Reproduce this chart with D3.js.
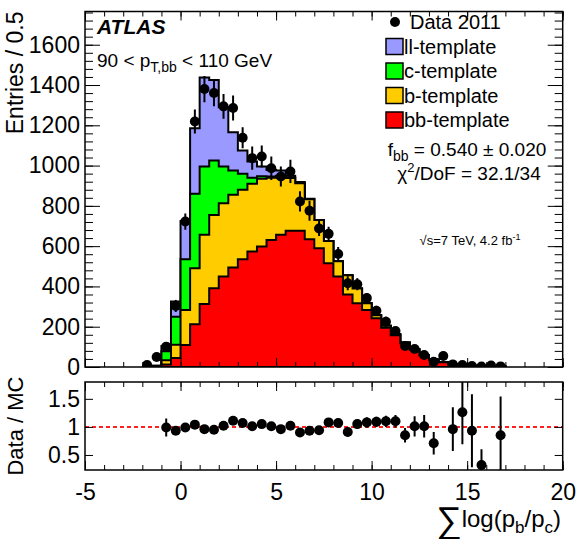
<!DOCTYPE html>
<html>
<head>
<meta charset="utf-8">
<script src="https://cdn.jsdelivr.net/npm/d3@7"></script>
<style>
  body { margin: 0; background: #fff; }
  svg { display: block; font-family: "Liberation Sans", Arial, Helvetica, sans-serif; }
</style>
</head>
<body>
<svg id="chart" width="578" height="539"></svg>
<script>
// histogram bins, width 0.5 (centres)
const binWidth = 0.5;
const binCenters = [-1.75, -1.25, -0.75, -0.25, 0.25, 0.75, 1.25, 1.75, 2.25, 2.75,
  3.25, 3.75, 4.25, 4.75, 5.25, 5.75, 6.25, 6.75, 7.25, 7.75,
  8.25, 8.75, 9.25, 9.75, 10.25, 10.75, 11.25, 11.75, 12.25, 12.75,
  13.25, 13.75, 14.25, 14.75, 15.25, 15.75, 16.25, 16.75];

// templates (entries per bin, stacked bb -> b -> c -> ll)
const bbTemplate = [0, 0, 12, 45, 109, 212, 313, 391, 449, 494,
  535, 573, 598, 631, 656, 676, 676, 634, 590, 515,
  449, 360, 316, 283, 242, 195, 158, 118, 85, 57,
  36, 24, 12.5, 8, 5.4, 6, 2, 3.5];
const bTemplate = [0, 2, 22, 65, 174, 278, 343, 364, 364, 361,
  345, 337, 337, 309, 289, 262, 236, 199, 140, 110,
  76, 95, 74, 33, 15, 10, 5, 4, 3, 2,
  1, 1, 0, 0, 0, 0, 0, 0];
const cTemplate = [0, 4, 44, 140, 252, 370, 340, 270, 183, 120,
  80, 30, 12, 6, 5, 4, 3, 1, 0, 0,
  0, 0, 0, 0, 0, 0, 0, 0, 0, 0,
  0, 0, 0, 0, 0, 0, 0, 0];
const llTemplate = [0, 0, 26, 75, 190, 325, 441, 400, 294, 190,
  115, 80, 48, 32, 25, 8, 3, 1, 0, 0,
  0, 0, 0, 0, 0, 0, 0, 0, 0, 0,
  0, 0, 0, 0, 0, 0, 0, 0];

// Data 2011
const dataCounts = [10, 50, 101, 303, 722, 1219, 1380, 1360, 1294, 1286,
  1138, 1037, 1045, 987, 946, 971, 822, 776, 688, 661,
  561, 416, 411, 342, 279, 225, 179, 104, 89, 60,
  26, 55, 13, 10, 5, 2, 7, 3];
const dataErrors = [10, 15, 20, 30, 40, 60, 65, 65, 62, 62,
  52, 58, 55, 58, 50, 58, 50, 50, 38, 35,
  35, 35, 30, 25, 25, 25, 20, 18, 15, 15,
  10, 12, 6, 5, 4, 2, 4, 3];

// Data / MC (null = not shown)
const ratioValues = [null, null, 0.99, 0.93, 0.99, 1.04, 0.96, 0.95, 1.02, 1.11,
  1.07, 1.01, 1.05, 1.01, 0.96, 1.02, 0.90, 0.93, 0.94, 1.08,
  1.07, 0.91, 1.05, 1.08, 1.09, 1.10, 1.10, 0.85, 1.01, 1.01,
  0.71, null, 0.96, 1.26, 0.93, 0.32, null, 0.85];
const ratioErrors = [0, 0, 0.16, 0.07, 0.05, 0.05, 0.05, 0.05, 0.05, 0.05,
  0.05, 0.06, 0.06, 0.06, 0.06, 0.06, 0.06, 0.07, 0.07, 0.07,
  0.07, 0.08, 0.08, 0.09, 0.09, 0.10, 0.11, 0.13, 0.18, 0.20,
  0.20, 0, 0.39, 0.57, 0.65, 0.28, 0, 0.69];

const xTicks = [-5, 0, 5, 10, 15, 20];
const yTicks = [0, 200, 400, 600, 800, 1000, 1200, 1400, 1600];
const ratioTicks = [0.5, 1, 1.5];

const templateNames = ["ll-template", "c-template", "b-template", "bb-template"];
const templateKeys = ["bb", "b", "c", "ll"];
const templateColors = { ll: "#9999ff", c: "#00ff00", b: "#ffcc00", bb: "#ff0000" };

var svg = d3.select("#chart");
const font = '"Liberation Sans", Arial, Helvetica, sans-serif';

// frame geometry
const left = 85, right = 562.7;
const mainTop = 11.5, mainBottom = 367;
const ratioTop = 382, ratioBottom = 470;

var x = d3.scaleLinear().domain([-5, 20]).range([left, right]);
var y = d3.scaleLinear().domain([0, 1765]).range([mainBottom, mainTop]);
var yr = d3.scaleLinear().domain([0.232, 1.80]).range([ratioBottom, ratioTop]);

// clip paths
var defs = svg.append("defs");
defs.append("clipPath").attr("id", "clipMain").append("rect")
  .attr("x", left).attr("y", mainTop).attr("width", right - left).attr("height", mainBottom - mainTop);
defs.append("clipPath").attr("id", "clipRatio").append("rect")
  .attr("x", left).attr("y", ratioTop).attr("width", right - left).attr("height", ratioBottom - ratioTop);

// stacked templates
var rows = binCenters.map((c, i) => ({
  center: c, bb: bbTemplate[i], b: bTemplate[i], c: cTemplate[i], ll: llTemplate[i]
}));
var series = d3.stack().keys(templateKeys)(rows);

var stepPoints = (s) => {
  let pts = [[binCenters[0] - binWidth / 2, 0]];
  s.forEach((d, i) => {
    pts.push([binCenters[i] - binWidth / 2, d[1]]);
    pts.push([binCenters[i] + binWidth / 2, d[1]]);
  });
  pts.push([binCenters[binCenters.length - 1] + binWidth / 2, 0]);
  return pts;
};
var stepLine = d3.line().x(d => x(d[0])).y(d => y(d[1]));

var gMain = svg.append("g").attr("clip-path", "url(#clipMain)");
series.slice().reverse().forEach(s => {
  gMain.append("path")
    .attr("d", stepLine(stepPoints(s)) + "Z")
    .attr("fill", templateColors[s.key])
    .attr("stroke", "#000")
    .attr("stroke-width", 2)
    .attr("stroke-linejoin", "miter");
});

// data points
binCenters.forEach((c, i) => {
  gMain.append("line")
    .attr("x1", x(c)).attr("x2", x(c))
    .attr("y1", y(dataCounts[i] - dataErrors[i])).attr("y2", y(dataCounts[i] + dataErrors[i]))
    .attr("stroke", "#000").attr("stroke-width", 2);
  gMain.append("circle")
    .attr("cx", x(c)).attr("cy", y(dataCounts[i])).attr("r", 5)
    .attr("fill", "#000");
});

// ratio panel
var gRatio = svg.append("g").attr("clip-path", "url(#clipRatio)");
gRatio.append("line")
  .attr("x1", left).attr("x2", right)
  .attr("y1", yr(1)).attr("y2", yr(1))
  .attr("stroke", "#ff2020").attr("stroke-width", 2).attr("stroke-dasharray", "4,3");
binCenters.forEach((c, i) => {
  if (ratioValues[i] === null) return;
  gRatio.append("line")
    .attr("x1", x(c)).attr("x2", x(c))
    .attr("y1", yr(ratioValues[i] - ratioErrors[i])).attr("y2", yr(ratioValues[i] + ratioErrors[i]))
    .attr("stroke", "#000").attr("stroke-width", 2);
  gRatio.append("circle")
    .attr("cx", x(c)).attr("cy", yr(ratioValues[i])).attr("r", 5)
    .attr("fill", "#000");
});

// axes: ticks pointing inwards
var styleAxis = (g, size) => {
  g.select(".domain").remove();
  g.selectAll("line").attr("stroke", "#000").attr("stroke-width", 1);
  g.attr("font-family", font).attr("font-size", size);
  g.selectAll("text").attr("fill", "#000");
};

var drawAxis = (axis, tx, ty, size) => {
  var g = svg.append("g").attr("transform", "translate(" + tx + "," + ty + ")").call(axis);
  styleAxis(g, size || 23);
  return g;
};

var yMinor = d3.range(0, 1765, 40);
var xMinor = d3.range(-5, 20.01, 1);

// main panel
drawAxis(d3.axisLeft(y).tickValues(yTicks).tickSizeInner(-15).tickSizeOuter(0).tickPadding(5).tickFormat(d3.format("d")), left, 0);
drawAxis(d3.axisLeft(y).tickValues(yMinor).tickSizeInner(-8).tickSizeOuter(0).tickFormat(""), left, 0);
drawAxis(d3.axisRight(y).tickValues(yTicks).tickSizeInner(-15).tickSizeOuter(0).tickFormat(""), right, 0);
drawAxis(d3.axisRight(y).tickValues(yMinor).tickSizeInner(-8).tickSizeOuter(0).tickFormat(""), right, 0);
drawAxis(d3.axisBottom(x).tickValues(xTicks).tickSizeInner(-9).tickSizeOuter(0).tickFormat(""), 0, mainBottom);
drawAxis(d3.axisBottom(x).tickValues(xMinor).tickSizeInner(-5).tickSizeOuter(0).tickFormat(""), 0, mainBottom);
drawAxis(d3.axisTop(x).tickValues(xTicks).tickSizeInner(-9).tickSizeOuter(0).tickFormat(""), 0, mainTop);
drawAxis(d3.axisTop(x).tickValues(xMinor).tickSizeInner(-5).tickSizeOuter(0).tickFormat(""), 0, mainTop);

// ratio panel
drawAxis(d3.axisLeft(yr).tickValues(ratioTicks).tickSizeInner(-8).tickSizeOuter(0).tickPadding(5).tickFormat(d3.format("~g")), left, 0);
drawAxis(d3.axisRight(yr).tickValues(ratioTicks).tickSizeInner(-8).tickSizeOuter(0).tickFormat(""), right, 0);
var xLab = drawAxis(d3.axisBottom(x).tickValues(xTicks).tickSizeInner(-9).tickSizeOuter(0).tickPadding(14), 0, ratioBottom);
drawAxis(d3.axisBottom(x).tickValues(xMinor).tickSizeInner(-5).tickSizeOuter(0).tickFormat(""), 0, ratioBottom);
drawAxis(d3.axisTop(x).tickValues(xTicks).tickSizeInner(-9).tickSizeOuter(0).tickFormat(""), 0, ratioTop);
drawAxis(d3.axisTop(x).tickValues(xMinor).tickSizeInner(-5).tickSizeOuter(0).tickFormat(""), 0, ratioTop);
xLab.selectAll("text").text(d => d < 0 ? "-" + Math.abs(d) : d);

// frames
[[mainTop, mainBottom], [ratioTop, ratioBottom]].forEach(f => {
  svg.append("rect")
    .attr("x", left).attr("y", f[0]).attr("width", right - left).attr("height", f[1] - f[0])
    .attr("fill", "none").attr("stroke", "#000").attr("stroke-width", 1.5);
});

// axis titles
svg.append("text")
  .attr("transform", "translate(23," + mainTop + ")rotate(-90)")
  .attr("text-anchor", "end").attr("font-size", 23).attr("font-family", font)
  .text("Entries / 0.5");
svg.append("text")
  .attr("transform", "translate(23," + ((ratioTop + ratioBottom) / 2) + ")rotate(-90)")
  .attr("text-anchor", "middle").attr("font-size", 22).attr("font-family", font)
  .text("Data / MC");

var xTitle = svg.append("text")
  .attr("x", 561).attr("y", 527).attr("text-anchor", "end")
  .attr("font-size", 24).attr("font-family", font);
xTitle.append("tspan").attr("font-size", 36).attr("dy", 5).text("\u2211");
xTitle.append("tspan").attr("dy", -5).text("log(p");
xTitle.append("tspan").attr("font-size", 17).attr("dy", 6).text("b");
xTitle.append("tspan").attr("dy", -6).text("/p");
xTitle.append("tspan").attr("font-size", 17).attr("dy", 6).text("c");
xTitle.append("tspan").attr("dy", -6).text(")");

// labels inside the plot
svg.append("text")
  .attr("x", 97).attr("y", 34)
  .attr("font-size", 21).attr("font-weight", "bold").attr("font-style", "italic")
  .attr("font-family", font).text("ATLAS");

var ptLabel = svg.append("text")
  .attr("x", 97).attr("y", 67).attr("font-size", 19).attr("font-family", font);
ptLabel.append("tspan").text("90 < p");
ptLabel.append("tspan").attr("font-size", 14).attr("dy", 5).text("T,bb");
ptLabel.append("tspan").attr("dy", -5).text(" < 110 GeV");

// legend
var legendY = [22, 46.5, 71, 95.5, 120];
svg.append("circle").attr("cx", 395).attr("cy", legendY[0]).attr("r", 5).attr("fill", "#000");
svg.append("text").attr("x", 410).attr("y", legendY[0]).attr("dy", "0.35em")
  .attr("font-size", 20).attr("font-family", font).text("Data 2011");
["ll", "c", "b", "bb"].forEach((k, i) => {
  svg.append("rect")
    .attr("x", 386).attr("y", legendY[i + 1] - 8).attr("width", 17).attr("height", 16)
    .attr("fill", templateColors[k]).attr("stroke", "#000").attr("stroke-width", 1.5);
  svg.append("text").attr("x", 404).attr("y", legendY[i + 1]).attr("dy", "0.35em")
    .attr("font-size", 20).attr("font-family", font).text(templateNames[i]);
});

var fitLabel = svg.append("text")
  .attr("x", 467).attr("y", 156).attr("text-anchor", "middle")
  .attr("font-size", 19).attr("font-family", font);
fitLabel.append("tspan").text("f");
fitLabel.append("tspan").attr("font-size", 14).attr("dy", 5).text("bb");
fitLabel.append("tspan").attr("dy", -5).text(" = 0.540 \u00b1 0.020");

var chiLabel = svg.append("text")
  .attr("x", 469).attr("y", 180).attr("text-anchor", "middle")
  .attr("font-size", 19).attr("font-family", font);
chiLabel.append("tspan").text("\u03c7");
chiLabel.append("tspan").attr("font-size", 13).attr("dy", -8).text("2");
chiLabel.append("tspan").attr("dy", 8).text("/DoF = 32.1/34");

var sLabel = svg.append("text")
  .attr("x", 470).attr("y", 245).attr("text-anchor", "middle")
  .attr("font-size", 13).attr("font-family", font);
sLabel.append("tspan").text("\u221as=7 TeV, 4.2 fb");
sLabel.append("tspan").attr("font-size", 9).attr("dy", -5).text("-1");
</script>
</body>
</html>
